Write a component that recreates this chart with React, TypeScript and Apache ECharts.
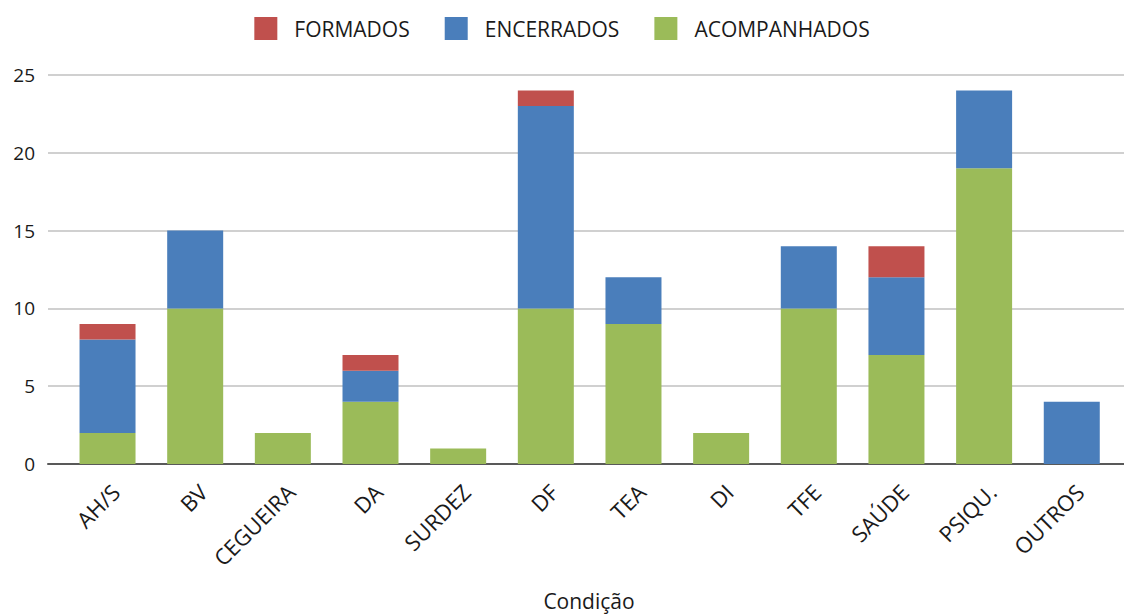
import React, { useEffect, useRef } from "react";
import * as echarts from "echarts";

const categories = ["AH/S", "BV", "CEGUEIRA", "DA", "SURDEZ", "DF", "TEA", "DI", "TFE", "SAÚDE", "PSIQU.", "OUTROS"];
const acompanhados = [2, 10, 2, 4, 1, 10, 9, 2, 10, 7, 19, 0];
const encerrados = [6, 5, 0, 2, 0, 13, 3, 0, 4, 5, 5, 4];
const formados = [1, 0, 0, 1, 0, 1, 0, 0, 0, 2, 0, 0];
const yTicks = { min: 0, max: 25, interval: 5 };
const axisTitle = "Condição";

const FONT = "'Open Sans', sans-serif";
const TEXT = "#1a1a1a";

export default function App() {
  const ref = useRef<HTMLDivElement>(null);
  useEffect(() => {
    if (!ref.current) return;
    const chart = echarts.init(ref.current, undefined, { renderer: "svg" });
    const top = 75;
    const bottom = 152;
    chart.setOption({
      animation: false,
      textStyle: { fontFamily: FONT },
      legend: {
        top: 12,
        left: "center",
        itemWidth: 23,
        itemHeight: 23,
        itemGap: 35,
        icon: "rect",
        data: ["FORMADOS", "ENCERRADOS", "ACOMPANHADOS"],
        textStyle: { fontSize: 21, color: TEXT, fontFamily: FONT, padding: [0, 0, 0, 12] },
      },
      grid: [
        { left: 48, right: 0, top, bottom },
        { left: 63.7, width: 1051.9, top, bottom },
      ],
      xAxis: [
        {
          gridIndex: 0, type: "value", min: 0, max: 1,
          axisLine: { show: true, lineStyle: { color: "#595959", width: 2 } },
          axisTick: { show: false }, axisLabel: { show: false }, splitLine: { show: false },
        },
        {
          gridIndex: 1, type: "category", data: categories,
          axisLine: { show: false }, axisTick: { show: false },
          axisLabel: {
            rotate: 45, margin: 16, verticalAlign: "top", fontSize: 22, color: TEXT, fontFamily: FONT, interval: 0,
          },
        },
      ],
      yAxis: [
        {
          gridIndex: 0, type: "value", ...yTicks,
          axisLine: { show: false }, axisTick: { show: false },
          axisLabel: { fontSize: 19, color: TEXT, fontFamily: FONT, margin: 13 },
          splitLine: { lineStyle: { color: "#d0d0d0", width: 2 } },
        },
        { gridIndex: 1, type: "value", ...yTicks, show: false, splitLine: { show: false } },
      ],
      series: [
        {
          name: "ACOMPANHADOS", type: "bar", stack: "s", xAxisIndex: 1, yAxisIndex: 1,
          data: acompanhados, barWidth: 56, itemStyle: { color: "#9BBB59" },
        },
        {
          name: "ENCERRADOS", type: "bar", stack: "s", xAxisIndex: 1, yAxisIndex: 1,
          data: encerrados, barWidth: 56, itemStyle: { color: "#4A7EBB" },
        },
        {
          name: "FORMADOS", type: "bar", stack: "s", xAxisIndex: 1, yAxisIndex: 1,
          data: formados, barWidth: 56, itemStyle: { color: "#C0504D" },
        },
      ],
      graphic: [
        {
          type: "text", x: 589, y: 601,
          style: { text: axisTitle, fontSize: 21, fill: TEXT, fontFamily: FONT, align: "center", verticalAlign: "middle" },
        },
      ],
    });
    return () => chart.dispose();
  }, []);
  return <div ref={ref} style={{ width: 1124, height: 616, position: "absolute", left: 0, top: 0 }} />;
}
